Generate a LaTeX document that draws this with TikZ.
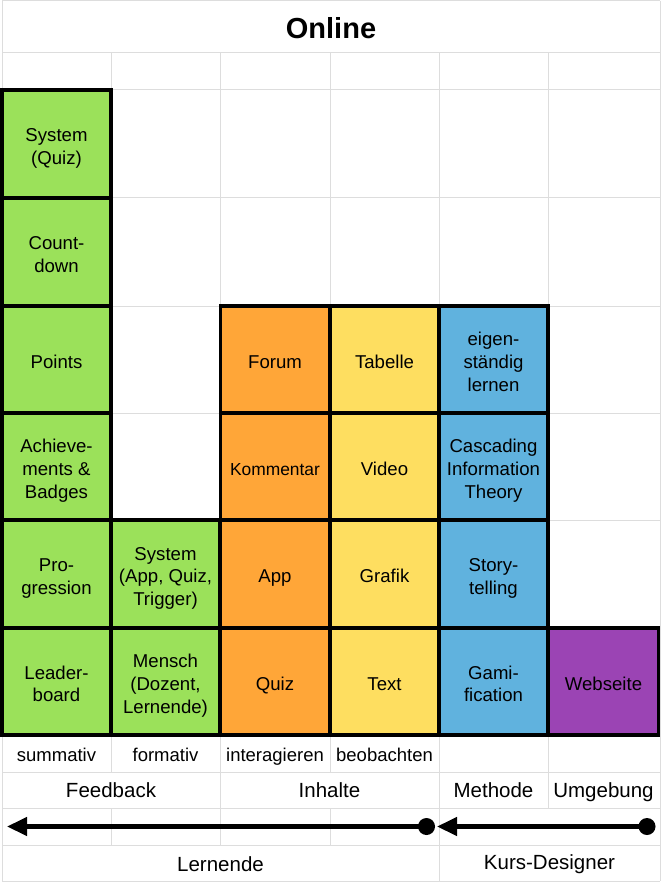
\documentclass[tikz,border=0pt]{standalone}
\usepackage{fontspec}
\setmainfont{Liberation Sans}
\usetikzlibrary{arrows.meta}
\definecolor{cgreen}{RGB}{155,225,90}
\definecolor{corange}{RGB}{255,166,56}
\definecolor{cyellow}{RGB}{254,222,96}
\definecolor{cblue}{RGB}{96,178,222}
\definecolor{cpurple}{RGB}{155,68,180}
\definecolor{cgrid}{RGB}{221,221,221}
\newcommand\cl[1]{\rule{0pt}{17.9pt}\smash{#1}}
\tikzset{
  gridline/.style={draw=cgrid, line width=1pt},
  cellbox/.style={draw=black, line width=3.6pt, minimum width=109pt, minimum height=107.5pt, inner sep=0pt, align=center, font=\fontsize{18.6}{22.6}\selectfont},
  gbox/.style={cellbox, fill=cgreen},
  obox/.style={cellbox, fill=corange},
  ybox/.style={cellbox, fill=cyellow},
  bbox/.style={cellbox, fill=cblue},
  pbox/.style={cellbox, fill=cpurple},
  lab/.style={inner sep=0pt, text height=15.3pt, text depth=0pt, font=\fontsize{18.5}{22}\selectfont},
  biglab/.style={inner sep=0pt, text height=14.7pt, text depth=0pt, font=\fontsize{20.5}{24}\selectfont},
  titlelab/.style={inner sep=0pt, font=\fontsize{29}{34}\selectfont\bfseries},
  dotnode/.style={circle, fill=black, minimum size=17pt, inner sep=0pt},
  arrowline/.style={line width=4.2pt, -{Triangle[length=20pt,width=18pt]}}
}
\begin{document}
\begin{tikzpicture}[x=1pt,y=-1pt]
\useasboundingbox (0,0) rectangle (661,882);
\fill[white] (0,0) rectangle (661,882);
% horizontal grid lines
\foreach \yy in {1,53,90,198,306,413,520,628,736,772,808,845,881}
  \draw[gridline] (2,\yy) -- (660,\yy);
% outer verticals
\draw[gridline] (2,1) -- (2,881);
\draw[gridline] (660,1) -- (660,881);
% inner verticals, grid area and first label row
\foreach \xx in {111,220,330,439,548}
  \draw[gridline] (\xx,53) -- (\xx,772);
% second label row
\foreach \xx in {220,439,548}
  \draw[gridline] (\xx,772) -- (\xx,808);
% arrow row
\foreach \xx in {111,220,330,439}
  \draw[gridline] (\xx,808) -- (\xx,845);
% last row
\draw[gridline] (439,845) -- (439,881);

% title
\node[titlelab] (title) at (331,28) {Online};

% column 1 (green)
\node[gbox] (a1) at (56.5,144) {\cl{System}\\\cl{(Quiz)}};
\node[gbox] (a2) at (56.5,252) {\cl{Count-}\\\cl{down}};
\node[gbox] (a3) at (56.5,359.5) {\cl{Points}};
\node[gbox] (a4) at (56.5,466.5) {\cl{Achieve-}\\\cl{ments \&}\\\cl{Badges}};
\node[gbox] (a5) at (56.5,574) {\cl{Pro-}\\\cl{gression}};
\node[gbox] (a6) at (56.5,681.5) {\cl{Leader-}\\\cl{board}};
% column 2 (green)
\node[gbox] (b5) at (165.5,574) {\cl{System}\\\cl{(App, Quiz,}\\\cl{Trigger)}};
\node[gbox] (b6) at (165.5,681.5) {\cl{Mensch}\\\cl{(Dozent,}\\\cl{Lernende)}};
% column 3 (orange)
\node[obox] (c3) at (275,359.5) {\cl{Forum}};
\node[obox, font=\fontsize{17.4}{22.6}\selectfont] (c4) at (275,466.5) {\cl{Kommentar}};
\node[obox] (c5) at (275,574) {\cl{App}};
\node[obox] (c6) at (275,681.5) {\cl{Quiz}};
% column 4 (yellow)
\node[ybox] (d3) at (384.5,359.5) {\cl{Tabelle}};
\node[ybox] (d4) at (384.5,466.5) {\cl{Video}};
\node[ybox] (d5) at (384.5,574) {\cl{Grafik}};
\node[ybox] (d6) at (384.5,681.5) {\cl{Text}};
% column 5 (blue)
\node[bbox] (e3) at (493.5,359.5) {\cl{eigen-}\\\cl{ständig}\\\cl{lernen}};
\node[bbox] (e4) at (493.5,466.5) {\cl{Cascading}\\\cl{Information}\\\cl{Theory}};
\node[bbox] (e5) at (493.5,574) {\cl{Story-}\\\cl{telling}};
\node[bbox] (e6) at (493.5,681.5) {\cl{Gami-}\\\cl{fication}};
% column 6 (purple)
\node[pbox, minimum width=110pt] (f6) at (603.5,681.5) {\cl{Webseite}};

% label rows
\node[lab] (l1) at (56.5,754) {summativ};
\node[lab] (l2) at (165.5,754) {formativ};
\node[lab] (l3) at (275,754) {interagieren};
\node[lab] (l4) at (384.5,754) {beobachten};
\node[biglab] (m1) at (111,790) {Feedback};
\node[biglab] (m2) at (329.5,790) {Inhalte};
\node[biglab] (m3) at (493.5,790) {Methode};
\node[biglab] (m4) at (603.5,790) {Umgebung};
\node[biglab] (n1) at (220.5,864) {Lernende};
\node[biglab] (n2) at (549.5,862) {Kurs-Designer};

% arrows
\node[dotnode] (dot1) at (426.5,826.5) {};
\node[dotnode] (dot2) at (647,826.5) {};
\coordinate (tip1) at (7,826.5);
\coordinate (tip2) at (437,826.5);
\draw[arrowline] (dot1.center) -- (tip1);
\draw[arrowline] (dot2.center) -- (tip2);
\end{tikzpicture}
\end{document}
